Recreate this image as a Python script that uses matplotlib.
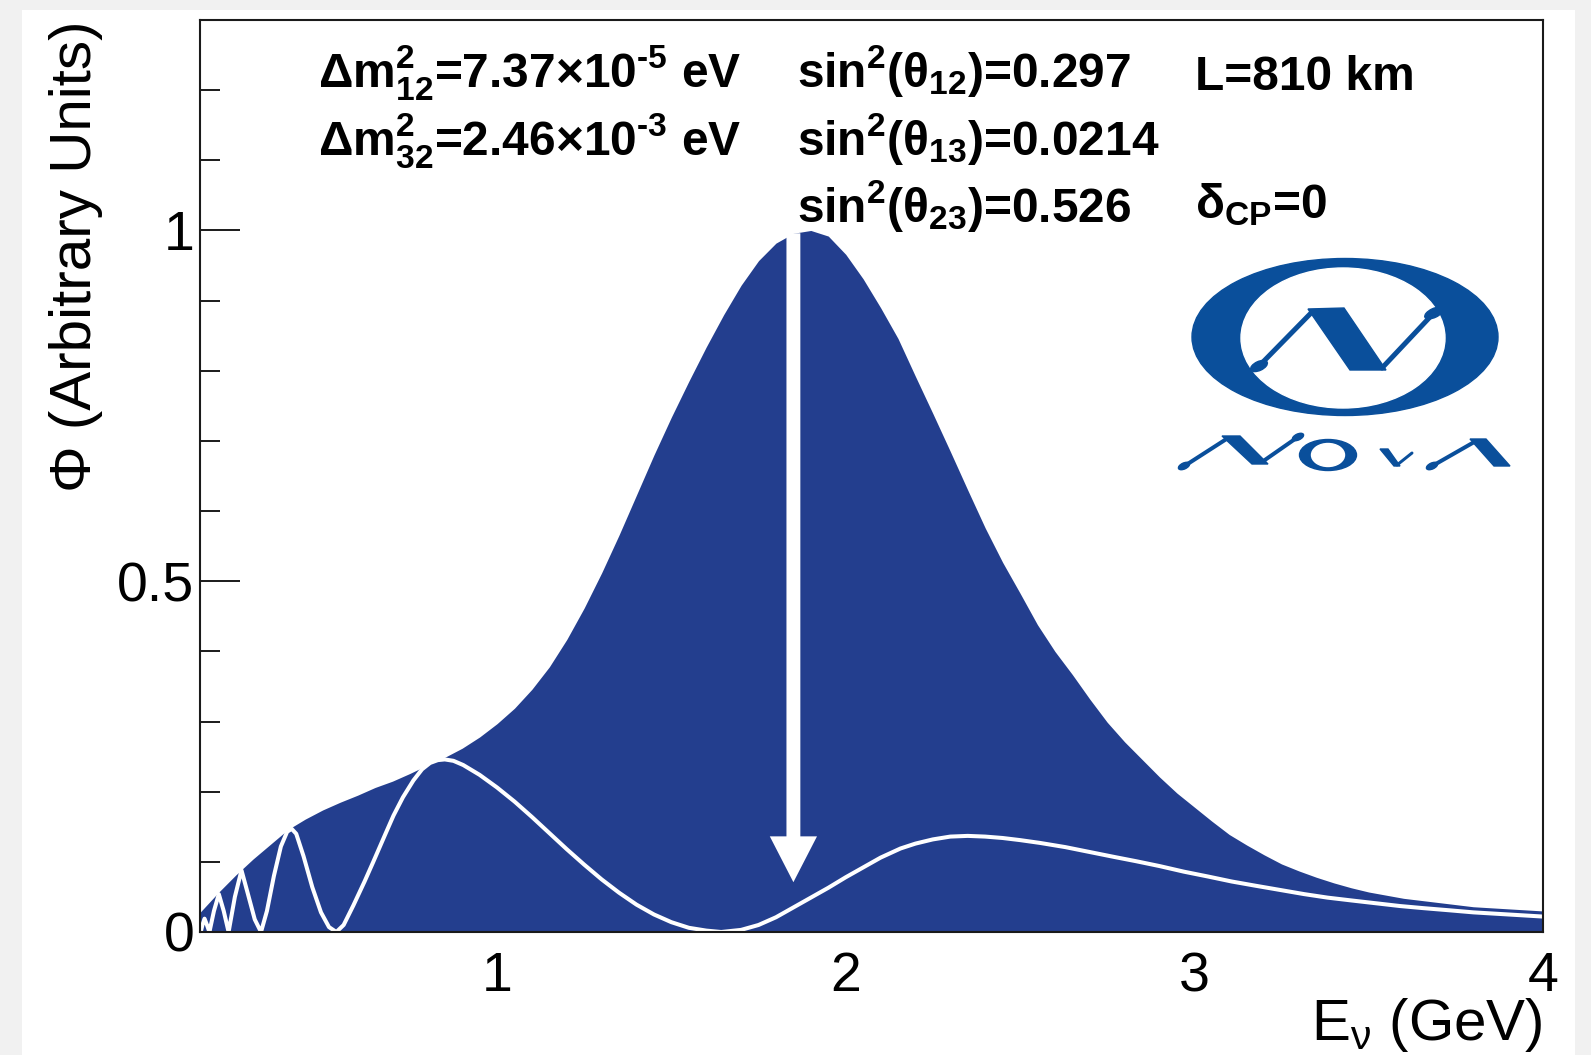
import matplotlib.pyplot as plt
from matplotlib.patches import Ellipse, Polygon, Rectangle

plt.rcParams['font.family'] = ['Liberation Sans', 'DejaVu Sans']
plt.rcParams['mathtext.fontset'] = 'custom'
plt.rcParams['mathtext.rm'] = 'Liberation Sans'
plt.rcParams['mathtext.bf'] = 'Liberation Sans:bold'
plt.rcParams['mathtext.default'] = 'regular'

# unoscillated nu_mu flux at the far detector (GeV, arbitrary units)
flux_energy = [0.148, 0.20, 0.25, 0.30, 0.35, 0.40, 0.45, 0.50, 0.55, 0.60,
               0.65, 0.70, 0.75, 0.80, 0.85, 0.90, 0.95, 1.00, 1.05, 1.10,
               1.15, 1.20, 1.25, 1.30, 1.35, 1.40, 1.45, 1.50, 1.55, 1.60,
               1.65, 1.70, 1.75, 1.80, 1.85, 1.90, 1.95, 2.00, 2.05, 2.10,
               2.15, 2.20, 2.25, 2.30, 2.35, 2.40, 2.45, 2.50, 2.55, 2.60,
               2.65, 2.70, 2.75, 2.80, 2.85, 2.90, 2.95, 3.00, 3.05, 3.10,
               3.15, 3.20, 3.25, 3.30, 3.35, 3.40, 3.45, 3.50, 3.60, 3.70,
               3.80, 3.90, 4.00]
flux = [0.028, 0.056, 0.081, 0.104, 0.125, 0.146, 0.161, 0.174, 0.185, 0.195,
        0.206, 0.215, 0.226, 0.238, 0.249, 0.262, 0.278, 0.297, 0.319, 0.346,
        0.378, 0.417, 0.462, 0.512, 0.566, 0.623, 0.680, 0.734, 0.785, 0.834,
        0.880, 0.922, 0.957, 0.982, 0.996, 1.000, 0.992, 0.966, 0.931, 0.890,
        0.846, 0.792, 0.739, 0.685, 0.630, 0.576, 0.527, 0.483, 0.438, 0.400,
        0.367, 0.332, 0.299, 0.271, 0.246, 0.221, 0.198, 0.178, 0.158, 0.139,
        0.124, 0.110, 0.097, 0.087, 0.078, 0.070, 0.063, 0.057, 0.048, 0.042,
        0.036, 0.033, 0.030]

# flux after nu_mu disappearance over 810 km
surv_energy = [0.150, 0.155, 0.161, 0.168, 0.175, 0.188, 0.202, 0.216, 0.230,
               0.248, 0.267, 0.285, 0.305, 0.323, 0.340, 0.360, 0.380, 0.398,
               0.411, 0.424, 0.445, 0.470, 0.495, 0.518, 0.539, 0.560, 0.588,
               0.620, 0.645, 0.680, 0.703, 0.730, 0.760, 0.785, 0.808, 0.830,
               0.850, 0.875, 0.903, 0.95, 1.00, 1.05, 1.10, 1.15, 1.20,
               1.25, 1.30, 1.35, 1.40, 1.45, 1.50, 1.55, 1.60, 1.643, 1.70,
               1.75, 1.80, 1.85, 1.90, 1.95, 2.00, 2.05, 2.10, 2.157, 2.20,
               2.25, 2.30, 2.35, 2.40, 2.45, 2.50, 2.557, 2.63, 2.70, 2.77,
               2.832, 2.90, 2.97, 3.04, 3.107, 3.175, 3.245, 3.315, 3.382, 3.45,
               3.52, 3.59, 3.657, 3.73, 3.80, 3.90, 4.00]
surv_flux = [0.0, 0.010, 0.019, 0.010, 0.0, 0.030, 0.054, 0.030, 0.0,
             0.050, 0.088, 0.055, 0.018, 0.0, 0.030, 0.080, 0.122, 0.143,
             0.147, 0.140, 0.108, 0.064, 0.028, 0.007, 0.0, 0.010, 0.038,
             0.072, 0.100, 0.140, 0.166, 0.192, 0.216, 0.232, 0.241, 0.245,
             0.246, 0.244, 0.238, 0.224, 0.206, 0.186, 0.164, 0.141, 0.118,
             0.096, 0.075, 0.056, 0.039, 0.025, 0.014, 0.006, 0.002, 0.0, 0.003,
             0.010, 0.021, 0.035, 0.049, 0.063, 0.078, 0.092, 0.106, 0.119, 0.126,
             0.132, 0.136, 0.137, 0.136, 0.134, 0.131, 0.127, 0.121, 0.114, 0.107,
             0.101, 0.094, 0.086, 0.079, 0.072, 0.066, 0.060, 0.054, 0.049, 0.045,
             0.041, 0.037, 0.034, 0.031, 0.028, 0.025, 0.022]

# oscillation maximum marker
arrow_energy = 1.85
arrow_top = 0.996
arrow_tip = 0.071

xtick_values = [1, 2, 3, 4]
xtick_labels = ['1', '2', '3', '4']
ytick_values = [0, 0.5, 1]
ytick_labels = ['0', '0.5', '1']
yminor_values = [0.1, 0.2, 0.3, 0.4, 0.6, 0.7, 0.8, 0.9, 1.1, 1.2]

left_column = ['Δm$^{2}_{12}$=7.37×10$^{\u20105}$ eV',
               'Δm$^{2}_{32}$=2.46×10$^{\u20103}$ eV']
middle_column = [r'sin$^{2}$(θ$_{12}$)=0.297',
                 r'sin$^{2}$(θ$_{13}$)=0.0214',
                 r'sin$^{2}$(θ$_{23}$)=0.526']
baseline_text = 'L=810 km'
dcp_text = r'δ$_{CP}$=0'

fill_blue = '#233E8E'
logo_blue = '#0A4F9B'

W, H = 1591, 1055
fig = plt.figure(figsize=(W / 100, H / 100), dpi=100)
fig.patch.set_facecolor('#f1f1f1')
fig.add_artist(Rectangle((22 / W, 0), (1575 - 22) / W, 1045 / H,
                         transform=fig.transFigure, facecolor='white',
                         edgecolor='none', zorder=-1))

ax = fig.add_axes([200 / W, 123 / H, 1343 / W, 912 / H])
ax.set_facecolor('white')
ax.fill_between(flux_energy, 0, flux, color=fill_blue, lw=0, zorder=1)
ax.plot(surv_energy, surv_flux, color='white', lw=2.9,
        solid_joinstyle='round', zorder=2)
ax.annotate('', xy=(arrow_energy, arrow_tip), xytext=(arrow_energy, arrow_top),
            arrowprops=dict(width=10, headwidth=34, headlength=33, shrink=0,
                            facecolor='white', edgecolor='none'),
            zorder=3)

ax.set_xlim(0.148, 4.0)
ax.set_ylim(0, 1.3)
ax.set_xticks(xtick_values)
ax.set_xticklabels(xtick_labels)
ax.set_yticks(ytick_values)
ax.set_yticklabels(ytick_labels)
ax.set_yticks(yminor_values, minor=True)
ax.tick_params(axis='x', length=0, pad=14, labelsize=40)
ax.tick_params(axis='y', which='major', direction='in', length=29, width=1.4,
               pad=4, labelsize=40, color='#1a1a1a')
ax.tick_params(axis='y', which='minor', direction='in', length=14.5,
               width=1.4, color='#1a1a1a')
for s in ax.spines.values():
    s.set_linewidth(1.5)
    s.set_color('#1a1a1a')
    s.set_zorder(5)

ax.text(-0.0923, 1.0, 'Φ (Arbitrary Units)', transform=ax.transAxes,
        rotation=90, ha='center', va='top', fontsize=42)
ax.text(1.0, -0.118, r'E$_{\nu}$ (GeV)', transform=ax.transAxes,
        ha='right', va='baseline', fontsize=42)

# oscillation parameters
row_y = [0.9265, 0.852, 0.7785]
txt = dict(transform=ax.transAxes, fontsize=34.5, fontweight='bold',
           va='baseline', ha='left', zorder=4)
for i, s in enumerate(left_column):
    ax.text(0.0876, row_y[i], s, **txt)
for i, s in enumerate(middle_column):
    ax.text(0.4442, row_y[i], s, **txt)
ax.text(0.7412, 0.923, baseline_text, **txt)
ax.text(0.7412, 0.783, dcp_text, **txt)

# experiment logo, drawn in pixel units
lax = fig.add_axes([1170 / W, (H - 480) / H, 350 / W, 230 / H])
lax.set_xlim(1170, 1520)
lax.set_ylim(480, 250)
lax.axis('off')
px = 1 / 1.389


def stroke(x, y, w):
    lax.plot(x, y, color=logo_blue, lw=w * px, solid_capstyle='round')


lax.add_patch(Ellipse((1345, 337), 306, 157, color=logo_blue))
lax.add_patch(Ellipse((1343, 338), 204, 140, color='white'))
stroke([1262, 1312], [363, 312], 5)
lax.add_patch(Ellipse((1259, 366), 18, 9, angle=-25, color=logo_blue))
lax.add_patch(Polygon([(1308, 309), (1344, 308), (1386, 370), (1350, 370)],
                      color=logo_blue))
stroke([1382, 1430], [368, 317], 5)
lax.add_patch(Ellipse((1434, 313), 20, 9, angle=-25, color=logo_blue))

# lettering under the ring
stroke([1186, 1228], [465, 438], 4)
lax.add_patch(Ellipse((1184, 466), 12, 6, angle=-25, color=logo_blue))
lax.add_patch(Polygon([(1222, 436), (1240, 436), (1268, 464), (1252, 464)],
                      color=logo_blue))
stroke([1262, 1295], [462, 439], 4)
lax.add_patch(Ellipse((1298, 437), 12, 6, angle=-25, color=logo_blue))
lax.add_patch(Ellipse((1328, 455), 57, 31, color=logo_blue))
lax.add_patch(Ellipse((1328, 455), 33, 23, color='white'))
lax.add_patch(Polygon([(1380, 449), (1388, 449), (1400, 466), (1394, 466)],
                      color=logo_blue))
stroke([1397, 1412], [465, 453], 3)
stroke([1434, 1476], [465, 441], 4)
lax.add_patch(Ellipse((1432, 466), 12, 6, angle=-25, color=logo_blue))
lax.add_patch(Polygon([(1470, 439), (1486, 439), (1510, 466), (1494, 466)],
                      color=logo_blue))

fig.savefig('out.png', dpi=100, facecolor=fig.get_facecolor())
